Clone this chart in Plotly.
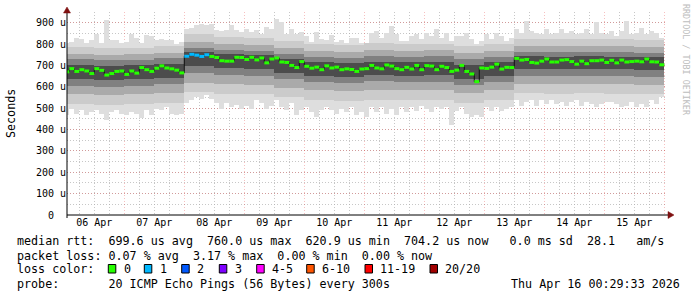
import plotly.graph_objects as go
from datetime import datetime, timedelta

# ---------------- data (2-hour bins starting 2026-04-06 00:00) ----------------
START = datetime(2026, 4, 6, 0, 0)
BIN_HOURS = 2
SEG_HOURS = 12

median_us = [
    670, 685, 672, 680, 674, 662, 685, 677, 655, 662, 672, 674,   # 06 Apr
    658, 674, 664, 690, 680, 672, 687, 698, 688, 684, 678, 665,   # 07 Apr
    743, 752, 748, 742, 750, 742, 737, 722, 720, 720, 738, 737,   # 08 Apr
    728, 738, 726, 735, 712, 730, 735, 716, 714, 700, 690, 718,   # 09 Apr
    696, 687, 692, 680, 698, 688, 692, 680, 684, 681, 672, 683,   # 10 Apr
    685, 700, 688, 684, 702, 697, 685, 680, 691, 683, 700, 680,   # 11 Apr
    699, 697, 680, 696, 690, 672, 678, 700, 672, 660, 624, 688,   # 12 Apr
    686, 692, 706, 683, 691, 690, 733, 725, 728, 714, 711, 720,   # 13 Apr
    730, 716, 716, 725, 727, 718, 706, 720, 708, 722, 722, 725,   # 14 Apr
    714, 724, 712, 725, 716, 718, 720, 717, 730, 717, 716, 703,   # 15 Apr
]

max_us = [
    805, 810, 830, 825, 805, 820, 849, 805, 914, 820, 820, 805,
    810, 849, 830, 805, 841, 836, 817, 825, 817, 820, 802, 810,
    872, 877, 887, 895, 887, 895, 867, 861, 864, 887, 864, 856,
    872, 856, 864, 849, 880, 872, 919, 903, 849, 872, 849, 856,
    836, 810, 856, 825, 817, 841, 810, 817, 805, 830, 830, 807,
    807, 854, 862, 830, 854, 885, 846, 815, 815, 839, 846, 823,
    854, 839, 870, 830, 854, 815, 839, 839, 854, 823, 800, 815,
    846, 823, 854, 839, 815, 830, 870, 854, 908, 862, 854, 846,
    870, 846, 854, 870, 854, 862, 846, 854, 870, 846, 901, 854,
    846, 862, 839, 862, 908, 846, 854, 877, 846, 862, 854, 830,
]

min_us = [
    467, 498, 475, 490, 467, 483, 490, 475, 444, 483, 490, 475,
    467, 483, 475, 452, 490, 467, 498, 490, 506, 475, 467, 475,
    522, 537, 553, 545, 560, 545, 522, 498, 522, 506, 514, 498,
    509, 498, 537, 522, 498, 509, 537, 506, 490, 522, 467, 490,
    506, 483, 459, 490, 506, 490, 475, 498, 483, 505, 466, 481,
    458, 505, 481, 505, 474, 497, 466, 505, 481, 505, 489, 512,
    497, 481, 505, 497, 505, 419, 489, 505, 474, 458, 466, 458,
    505, 489, 505, 489, 497, 505, 536, 512, 528, 536, 512, 536,
    520, 536, 520, 528, 512, 528, 536, 512, 528, 520, 505, 520,
    528, 528, 520, 505, 512, 528, 505, 520, 505, 536, 520, 551,
]

# lost pings (of 20) per bin
loss_count = [
    0, 0, 0, 0, 0, 0, 0, 0, 0, 0, 0, 0,
    0, 0, 0, 0, 0, 0, 0, 0, 0, 0, 0, 0,
    1, 1, 1, 1, 1, 0, 0, 0, 0, 0, 0, 0,
    0, 0, 0, 0, 0, 0, 0, 0, 0, 0, 0, 0,
    0, 0, 0, 0, 0, 0, 0, 0, 0, 0, 0, 0,
    0, 0, 0, 0, 0, 0, 0, 0, 0, 0, 0, 0,
    0, 0, 0, 0, 0, 0, 0, 0, 0, 0, 0, 0,
    0, 0, 0, 0, 0, 0, 0, 0, 0, 0, 0, 0,
    0, 0, 0, 0, 0, 0, 0, 0, 0, 0, 0, 0,
    0, 0, 0, 0, 0, 0, 0, 0, 0, 0, 0, 0,
]

# inner smoke bands (12-hour segments), from outer to inner
smoke_lo1 = [520, 515, 518, 525, 575, 568, 565, 550, 540, 535, 540, 538, 540, 525, 538, 570, 568, 570, 568, 566]
smoke_hi1 = [785, 780, 782, 790, 845, 835, 830, 815, 800, 795, 805, 800, 802, 790, 800, 825, 822, 825, 822, 820]
smoke_lo2 = [565, 560, 565, 570, 620, 615, 610, 595, 585, 580, 585, 583, 585, 570, 584, 615, 612, 614, 612, 610]
smoke_hi2 = [755, 750, 752, 760, 810, 800, 796, 782, 768, 765, 772, 768, 770, 758, 768, 792, 790, 792, 790, 788]
smoke_lo3 = [605, 600, 605, 612, 665, 655, 650, 635, 622, 620, 625, 622, 624, 608, 622, 652, 650, 652, 650, 648]
smoke_hi3 = [728, 725, 726, 735, 782, 772, 768, 752, 740, 736, 742, 740, 742, 728, 740, 765, 762, 764, 762, 760]
smoke_lo4 = [635, 630, 635, 642, 698, 688, 685, 665, 652, 648, 655, 652, 654, 636, 652, 684, 682, 684, 682, 680]
smoke_hi4 = [700, 698, 700, 708, 762, 752, 748, 728, 715, 710, 716, 714, 716, 702, 714, 742, 740, 742, 740, 738]

y_tickvals = [0, 100, 200, 300, 400, 500, 600, 700, 800, 900]
y_ticktext = ["0\u00a0\u00a0", "100 u", "200 u", "300 u", "400 u", "500 u",
              "600 u", "700 u", "800 u", "900 u"]

loss_legend = [("0", "#26ff00"), ("1", "#00b8ff"), ("2", "#0059ff"), ("3", "#7e00ff"),
               ("4-5", "#ff00ff"), ("6-10", "#ff5500"), ("11-19", "#ff0000"), ("20/20", "#a10000")]

legend_line1 = "median rtt:  699.6 us avg  760.0 us max  620.9 us min  704.2 us now   0.0 ms sd  28.1   am/s"
legend_line2 = "packet loss: 0.07 % avg  3.17 % max  0.00 % min  0.00 % now"
legend_line3 = "loss color:"
legend_line4 = "probe:       20 ICMP Echo Pings (56 Bytes) every 300s"
stamp = "Thu Apr 16 00:29:33 2026"
watermark = "RRDTOOL / TOBI OETIKER"

# ---------------- geometry helpers ----------------
W, H = 697, 297
PL, PR, PT, PB = 67, 667, 12, 215   # plot area in pixels


def px(x):
    return (x - PL) / (PR - PL)


def py(y):
    return (PB - y) / (PB - PT)


def nb(s):
    return s.replace(" ", "\u00a0")


MONO = "DejaVu Sans Mono"

bin_start = [START + timedelta(hours=BIN_HOURS * i) for i in range(len(median_us))]
bin_mid = [t + timedelta(hours=BIN_HOURS / 2) for t in bin_start]
bin_end = [t + timedelta(hours=BIN_HOURS) for t in bin_start]
seg_mid = [START + timedelta(hours=SEG_HOURS * k + SEG_HOURS / 2) for k in range(len(smoke_lo1))]

fig = go.Figure()


def band(xs, lo, hi, hours, color):
    fig.add_trace(go.Bar(
        x=xs, y=[h - l for l, h in zip(lo, hi)], base=lo,
        width=hours * 3600 * 1000,
        marker=dict(color=color, line=dict(width=0)),
        hoverinfo="skip", showlegend=False))


band(bin_mid, min_us, max_us, BIN_HOURS, "#dedede")
band(seg_mid, smoke_lo1, smoke_hi1, SEG_HOURS, "#cbcbcb")
band(seg_mid, smoke_lo2, smoke_hi2, SEG_HOURS, "#aaaaaa")
band(seg_mid, smoke_lo3, smoke_hi3, SEG_HOURS, "#808080")
band(seg_mid, smoke_lo4, smoke_hi4, SEG_HOURS, "#4c4c4c")

# thin dark step line for the median
fig.add_trace(go.Scatter(
    x=bin_start + [bin_end[-1]], y=median_us + [median_us[-1]],
    mode="lines", line=dict(color="#111111", width=1, shape="hv"),
    hoverinfo="skip", showlegend=False))


def loss_index(n):
    if n == 0:
        return 0
    if n <= 3:
        return n
    if n <= 5:
        return 4
    if n <= 10:
        return 5
    if n <= 19:
        return 6
    return 7


for idx, (label, color) in enumerate(loss_legend):
    xs, ys = [], []
    for i, m in enumerate(median_us):
        if loss_index(loss_count[i]) == idx:
            xs += [bin_start[i], bin_end[i], None]
            ys += [m, m, None]
    if xs:
        fig.add_trace(go.Scatter(x=xs, y=ys, mode="lines",
                                 line=dict(color=color, width=3),
                                 hoverinfo="skip", showlegend=False))

x0 = START + timedelta(hours=1, minutes=5)
x1 = x0 + timedelta(days=10)

grid_major = "rgba(230,60,60,0.32)"
grid_minor = "rgba(175,175,175,0.7)"

fig.update_layout(
    width=W, height=H,
    margin=dict(l=PL, r=W - PR, t=PT, b=H - PB),
    paper_bgcolor="white", plot_bgcolor="white",
    barmode="overlay", bargap=0, showlegend=False,
    font=dict(family=MONO, size=10, color="black"),
    xaxis=dict(
        type="date", range=[x0, x1],
        tick0="2026-04-06", dtick=86400000, ticklabelmode="period",
        tickformat="%d %b", tickfont=dict(family=MONO, size=10, color="black"),
        showgrid=True, gridcolor=grid_major, gridwidth=1, griddash="1px,2px",
        minor=dict(dtick=6 * 3600 * 1000, showgrid=True, gridcolor=grid_minor,
                   gridwidth=1, griddash="1px,2px"),
        showline=False, zeroline=False, ticks="", layer="above traces",
        fixedrange=True,
    ),
    yaxis=dict(
        range=[0, 950], tickvals=y_tickvals, ticktext=y_ticktext,
        tickfont=dict(family=MONO, size=10, color="black"),
        showgrid=True, gridcolor=grid_major, gridwidth=1, griddash="1px,2px",
        minor=dict(dtick=50, showgrid=True, gridcolor=grid_minor,
                   gridwidth=1, griddash="1px,2px"),
        showline=False, zeroline=False, ticks="", layer="above traces",
        fixedrange=True,
    ),
)

# axes lines and arrows
shapes = [
    dict(type="line", xref="paper", yref="paper", x0=px(PL), x1=px(669), y0=py(PB), y1=py(PB),
         line=dict(color="black", width=1)),
    dict(type="line", xref="paper", yref="paper", x0=px(PL), x1=px(PL), y0=py(218), y1=py(11),
         line=dict(color="black", width=1)),
    dict(type="path", xref="paper", yref="paper",
         path=f"M {px(668)} {py(211.5)} L {px(674)} {py(215)} L {px(668)} {py(218.5)} Z",
         fillcolor="#7f1010", line=dict(color="#7f1010", width=0.5)),
    dict(type="path", xref="paper", yref="paper",
         path=f"M {px(63.5)} {py(13)} L {px(67)} {py(7)} L {px(70.5)} {py(13)} Z",
         fillcolor="#7f1010", line=dict(color="#7f1010", width=0.5)),
]

annotations = []


def text(xp, yp, s, size=11.7, anchor="left", color="black", angle=0):
    annotations.append(dict(
        xref="paper", yref="paper", x=px(xp), y=py(yp), text=nb(s),
        showarrow=False, xanchor=anchor, yanchor="middle", borderpad=0,
        textangle=angle, font=dict(family=MONO, size=size, color=color)))


text(16, 241, legend_line1)
text(16, 256, legend_line2)
text(16, 269, legend_line3)
text(16, 284, legend_line4)
text(681, 284, stamp, anchor="right")
text(11, 114, "Seconds", anchor="center", angle=-90)
text(686, 60, watermark, size=8.4, anchor="center", color="#bdbdbd", angle=90)

box_x = [108.3, 144.3, 181.7, 219.3, 256.7, 306.7, 365.0, 430.0]
for bx, (label, color) in zip(box_x, loss_legend):
    shapes.append(dict(type="rect", xref="paper", yref="paper",
                       x0=px(bx), x1=px(bx + 7.5), y0=py(273), y1=py(264.5),
                       fillcolor=color, line=dict(color="black", width=1)))
    text(bx + 14.2, 269, label)

fig.update_layout(shapes=shapes, annotations=annotations)

fig.write_html("out.html")
